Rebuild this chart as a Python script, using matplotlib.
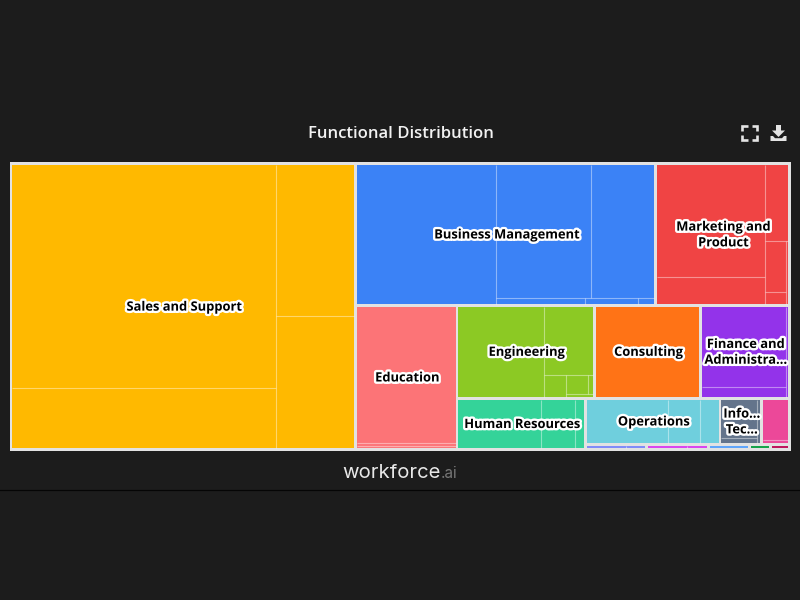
import matplotlib
matplotlib.use("Agg")
import matplotlib.pyplot as plt
import matplotlib.patheffects as pe
from matplotlib.patches import Rectangle, Polygon

# Groups, biggest first
groups = ["Sales and Support", "Business Management", "Marketing and\nProduct", "Education",
          "Engineering", "Consulting", "Finance and\nAdministra...", "Human Resources",
          "Operations", "Info...\nTec...", "", "", "", "", "", ""]
group_values = [98670, 42510, 18903, 14603, 12815, 9830, 8249, 6592,
                6234, 1931, 1266, 306, 310, 205, 104, 94]
colors = ["#FFB900", "#3B82F6", "#F04444", "#FC7477", "#8CC924", "#FF7316", "#9333EA", "#34D399",
          "#6FCFDD", "#64748B", "#EC4899", "#818CF8", "#D946EF", "#60A5FA", "#16A34A", "#BE185D"]

# Roles inside each group
sales = [58937, 15822, 11869, 10415]
business = [19363, 12568, 8445, 531, 318, 96]
marketing = [12152, 2930, 1687, 1056, 236, 107]
education = [13377, 294, 196]
engineering = [7686, 3373, 497, 419, 102, 73]
consulting = [9238]
finance = [6720, 840, 153]
human_resources = [4034, 1638, 437]
operations = [3532, 1408, 815]
info_tech = [1401, 182, 131]
pink = [995, 82]
periwinkle = [94, 46]
magenta = [94, 48]
blue = [91]
green = [43]
crimson = [38]
leaves = [sales, business, marketing, education, engineering, consulting, finance, human_resources,
          operations, info_tech, pink, periwinkle, magenta, blue, green, crimson]

# How each list is cut into strips: "v" column at the left, "h" row on top, with n items
group_strips = [("v", 1), ("h", 2), ("v", 1), ("h", 3), ("v", 1), ("h", 3), ("h", 5)]
leaf_strips = [
    [("v", 2), ("h", 1), ("h", 1)],
    [("v", 1), ("h", 2), ("h", 3)],
    [("v", 2), ("h", 1), ("v", 2), ("v", 1)],
    [("h", 1), ("h", 1), ("h", 1)],
    [("v", 1), ("h", 1), ("v", 1), ("h", 2), ("h", 1)],
    [("h", 1)],
    [("v", 2), ("v", 1)],
    [("v", 1), ("v", 1), ("v", 1)],
    [("v", 1), ("v", 1), ("v", 1)],
    [("v", 2), ("v", 1)],
    [("h", 1), ("h", 1)],
    [("v", 1), ("v", 1)],
    [("v", 1), ("v", 1)],
    [("h", 1)],
    [("h", 1)],
    [("h", 1)],
]


def layout(values, strips, x0, y0, x1, y1):
    # slice the box strip by strip, size proportional to value
    boxes = []
    i = 0
    total = sum(values)
    for direction, n in strips:
        part = values[i:i + n]
        share = sum(part) / total
        w = x1 - x0
        h = y1 - y0
        if direction == "v":
            sx = x0 + w * share
            y = y0
            for v in part:
                boxes.append((x0, y, sx, y + h * v / sum(part)))
                y += h * v / sum(part)
            x0 = sx
        else:
            sy = y0 + h * share
            x = x0
            for v in part:
                boxes.append((x, y0, x + w * v / sum(part), sy))
                x += w * v / sum(part)
            y0 = sy
        total -= sum(part)
        i += n
    return boxes


fig = plt.figure(figsize=(8, 6), dpi=100, facecolor="#1C1C1C")
ax = fig.add_axes([0, 0, 1, 1])
ax.set_xlim(0, 800)
ax.set_ylim(600, 0)
ax.axis("off")

ax.add_patch(Rectangle((9.5, 162), 781, 289, fc="#E2E2E2", ec="none"))
gap = 1.35
line = (1, 1, 1, 0.42)
for k, box in enumerate(layout(group_values, group_strips, 10.65, 163.65, 789.05, 449.65)):
    gx0, gy0, gx1, gy1 = box[0] + gap, box[1] + gap, box[2] - gap, box[3] - gap
    ax.add_patch(Rectangle((gx0, gy0), gx1 - gx0, gy1 - gy0, fc=colors[k], ec="none"))
    # only the inner dividers, the group edge stays clean
    for lx0, ly0, lx1, ly1 in layout(leaves[k], leaf_strips[k], gx0, gy0, gx1, gy1):
        if lx1 < gx1 - 0.01:
            ax.plot([lx1, lx1], [ly0, ly1], color=line, lw=0.8, solid_capstyle="butt")
        if ly1 < gy1 - 0.01:
            ax.plot([lx0, lx1], [ly1, ly1], color=line, lw=0.8, solid_capstyle="butt")
    if groups[k]:
        ax.text((gx0 + gx1) / 2 + 1, (gy0 + gy1) / 2 + 0.5, groups[k], ha="center", va="center",
                family="Open Sans", weight="bold", fontsize=9.3, color="black",
                linespacing=1.28,
                path_effects=[pe.withStroke(linewidth=3.4, foreground="white")])

ax.text(400.5, 134.5, "Functional Distribution", ha="center", va="center",
        family="Open Sans", weight="semibold", fontsize=12, color="#F2F2F2")

# logo under the chart
ax.text(441, 473, "workforce", ha="right", va="center", family="Inter",
        fontsize=14.6, color="#E8E8E8")
ax.text(441, 474, ".ai", ha="left", va="center", family="Inter", fontsize=11, color="#777777")
ax.plot([0, 800], [489.5, 489.5], color="#050505", lw=0.9)

# fullscreen icon
icon = "#E4E4E4"
for cx, sx in ((742, 1), (757, -1)):
    for cy, sy in ((125.5, 1), (140, -1)):
        ax.plot([cx + 5.5 * sx, cx, cx], [cy, cy, cy + 5 * sy], color=icon, lw=1.9,
                solid_joinstyle="miter", solid_capstyle="butt")

# download icon
ax.add_patch(Polygon([(776, 125), (781, 125), (781, 130.5), (785, 130.5), (778.5, 137), (772, 130.5), (776, 130.5)],
                     fc=icon, ec="none"))
ax.add_patch(Polygon([(770.5, 136), (773, 136), (775, 138.2), (782, 138.2), (784, 136), (786.5, 136), (786.5, 141), (770.5, 141)],
                     fc=icon, ec="none"))

fig.savefig("out.png", dpi=100, facecolor=fig.get_facecolor())
